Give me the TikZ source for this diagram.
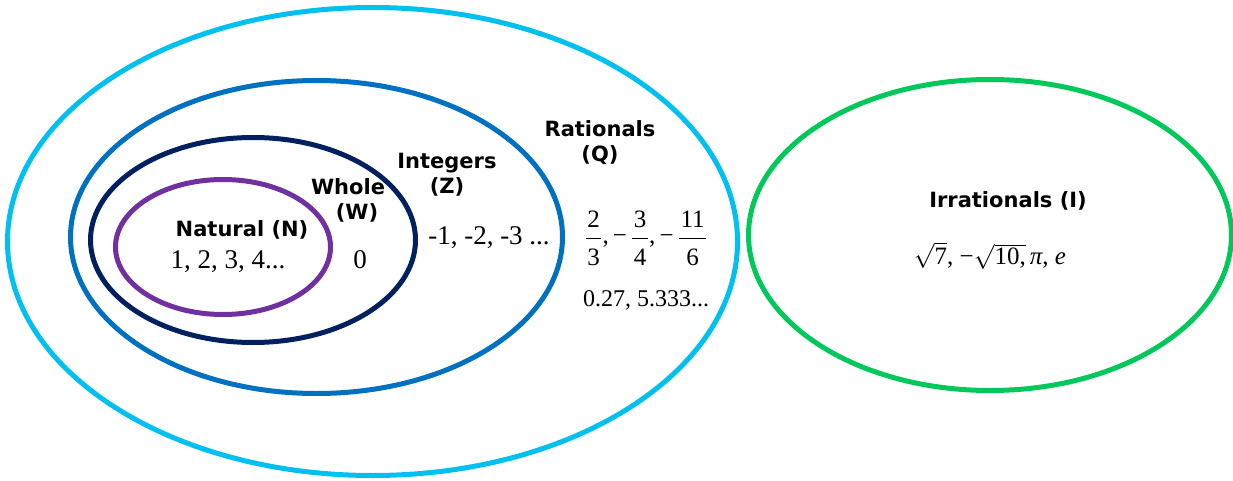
\documentclass[tikz,border=0pt]{standalone}
\usepackage{fontspec}
\setmainfont{Liberation Serif}
\newfontfamily\labfont{DejaVu Sans}
\definecolor{cQ}{RGB}{0,192,240}
\definecolor{cZ}{RGB}{0,112,192}
\definecolor{cW}{RGB}{0,32,96}
\definecolor{cN}{RGB}{112,48,160}
\definecolor{cI}{RGB}{0,200,90}
\newcommand\myfr[2]{$\displaystyle\frac{\mbox{\rule[-9pt]{0pt}{9pt}\kern1.5pt#1\kern1.5pt}}{\mbox{\rule{0pt}{26pt}\kern1.5pt#2\kern1.5pt}}$}
\begin{document}
\begin{tikzpicture}[x=1pt,y=-1pt,
  ring/.style={line width=5pt},
  lbl/.style={font=\labfont\bfseries\fontsize{21}{25}\selectfont, align=center, inner sep=0pt},
  num/.style={font=\fontsize{27}{30}\selectfont, inner sep=0pt}]
\useasboundingbox (0,0) rectangle (1233,481);
\draw[ring, draw=cQ] (372.5,241.5) ellipse [x radius=365pt, y radius=234pt];
\draw[ring, draw=cZ] (316.5,237) ellipse [x radius=246pt, y radius=156.5pt];
\draw[ring, draw=cW] (253,240) ellipse [x radius=162.5pt, y radius=102.5pt];
\draw[ring, draw=cN] (223,247) ellipse [x radius=107.5pt, y radius=67.5pt];
\draw[ring, draw=cI] (990,235) ellipse [x radius=241.5pt, y radius=155.5pt];
\node[lbl] (nlab) at (242,230) {Natural (N)};
\node[num] (nval) at (228,262) {1, 2, 3, 4...};
\node[lbl] (wlab) at (348,200) {Whole\\\hspace*{18pt}(W)};
\node[num] (wval) at (360,260) {0};
\node[lbl] (zlab) at (447,175) {Integers\\(Z)};
\node[num] (zval) at (489,238) {-1, -2, -3 ...};
\node[lbl] (qlab) at (600,143) {Rationals\\(Q)};
\node[num, font=\fontsize{25}{30}\selectfont] (qfrac) at (646,238) {\myfr{2}{3}\mbox{,\,−\,}\myfr{3}{4}\mbox{,\,−\,}\myfr{11}{6}};
\node[num, font=\fontsize{24}{28}\selectfont] (qdec) at (646,300) {0.27, 5.333...};
\node[lbl] (ilab) at (1008,201) {Irrationals (I)};
\node[num, font=\fontsize{25}{28}\selectfont] (ival) at (990,256) {$\sqrt{\mbox{7}}$, −$\sqrt{\mbox{10,}}$\,\textit{π}, \textit{e}};
\end{tikzpicture}
\end{document}
